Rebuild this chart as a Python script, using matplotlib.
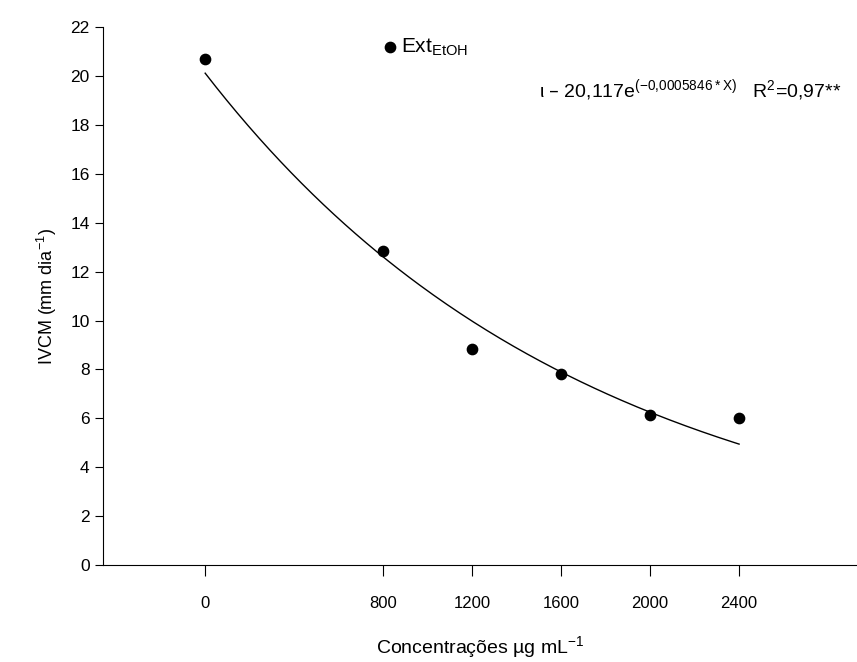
import numpy as np
import matplotlib.pyplot as plt

plt.rcParams['font.family'] = ['Liberation Sans', 'DejaVu Sans']

# dados
concentracoes = [0, 800, 1200, 1600, 2000, 2400]
ivcm = [20.7, 12.85, 8.85, 7.8, 6.15, 6.0]
a, b = 20.117, -0.0005846
xticks = [0, 800, 1200, 1600, 2000, 2400]
yticks = list(range(0, 23, 2))

fig = plt.figure(figsize=(8.57, 6.62), dpi=100)
ax = fig.add_axes([0.120, 0.1465, 0.88, 0.8125])

ax.scatter(concentracoes, ivcm, s=55, color='black', zorder=3)
xs = np.linspace(0, 2400, 200)
ax.plot(xs, a * np.exp(b * xs), color='black', lw=1)

# legenda
ax.scatter([830], [21.2], s=55, color='black', clip_on=False)
ax.text(880, 21.2, r'Ext$_{\mathregular{EtOH}}$', fontsize=15, va='center')
ax.text(1500, 19.4, r'ι – 20,117e$^{\mathregular{(-0{,}0005846*X)}}$   R$^{\mathregular{2}}$=0,97**',
        fontsize=14, va='center')

ax.set_xlim(-460, 2930)
ax.set_ylim(0, 22)
ax.set_xticks(xticks)
ax.set_yticks(yticks)
ax.spines['top'].set_visible(False)
ax.spines['right'].set_visible(False)
ax.tick_params(axis='x', length=8, pad=14, labelsize=12)
ax.tick_params(axis='y', length=6, labelsize=12.5)
ax.set_xlabel(r'Concentrações µg mL$^{\mathregular{-1}}$', fontsize=14, labelpad=17)
ax.set_ylabel(r'IVCM (mm dia$^{\mathregular{-1}}$)', fontsize=13, labelpad=8)

fig.savefig('out.png', dpi=100)
